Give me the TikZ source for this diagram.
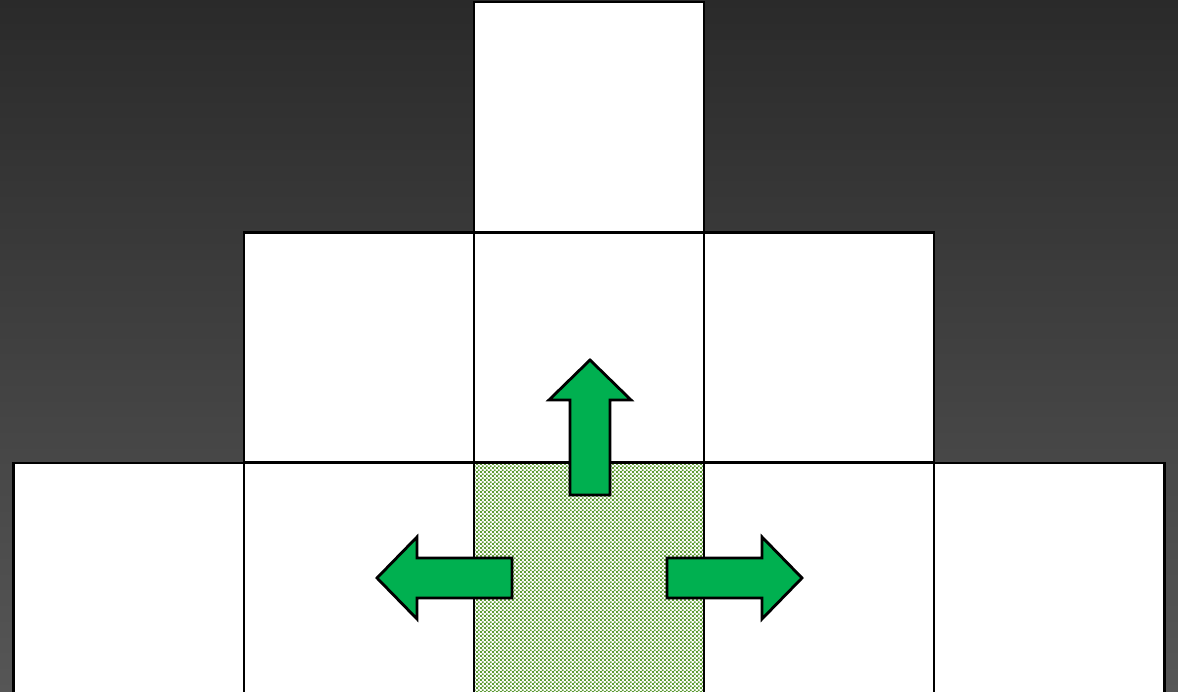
\documentclass[tikz,border=0pt]{standalone}
\usepackage{tikz}
\usetikzlibrary{positioning}
\usetikzlibrary{patterns.meta}
\definecolor{bg-top}{HTML}{2A2A2A}
\definecolor{bg-bottom}{HTML}{565656}
\definecolor{gp-arrow}{HTML}{00B050}
\definecolor{gp-check}{HTML}{5E9C35}
\tikzdeclarepattern{name=finechecker, type=uncolored,
  bottom left={(0pt,0pt)}, top right={(1.2pt,1.2pt)}, tile size={(1.2pt,1.2pt)},
  code={\fill (0pt,0pt) rectangle (.6pt,.6pt); \fill (.6pt,.6pt) rectangle (1.2pt,1.2pt);}}

\begin{document}
\begin{tikzpicture}[x=0.01cm, y=-0.01cm]

  % Global Style Definitions
  \tikzset{
    cell/.style={draw=black, fill=white, line width=0.7pt, minimum size=2.3cm, inner sep=0pt, outer sep=0pt},
    start/.style={cell, pattern={finechecker}, pattern color=gp-check},
    move/.style={draw=black, fill=gp-arrow, line width=0.8pt, line join=miter}
  }

  % Background
  \useasboundingbox (0,0) rectangle (1178,692);
  \clip (0,0) rectangle (1178,692);
  \shade[top color=bg-top, bottom color=bg-bottom] (0,0) rectangle (1178,692);

  % Top row
  \node (t) [cell] at (589,117) {};

  % Middle row
  \node (m2) [cell] at (589,347.5) {};
  \node (m1) [cell, left=0pt of m2] {};
  \node (m3) [cell, right=0pt of m2] {};

  % Bottom row (cut off by the page)
  \node (b3) [cell] at (589,578) {};
  \node (b2) [cell, left=0pt of b3] {};
  \node (b1) [cell, left=0pt of b2] {};
  \node (b4) [cell, right=0pt of b3] {};
  \node (b5) [cell, right=0pt of b4] {};
  \node (s) [start] at (b3) {};

  % Moves out of the start cell
  \coordinate (up) at (590,495);
  \coordinate (lt) at (512,578);
  \coordinate (rt) at (667,578);
  \foreach \base/\ang in {up/90, lt/180, rt/0}
    \draw[move, shift={(\base)}, rotate=\ang]
      (0,20) -- (95,20) -- (95,41) -- (135,0) -- (95,-41) -- (95,-20) -- (0,-20) -- cycle;

\end{tikzpicture}
\end{document}
